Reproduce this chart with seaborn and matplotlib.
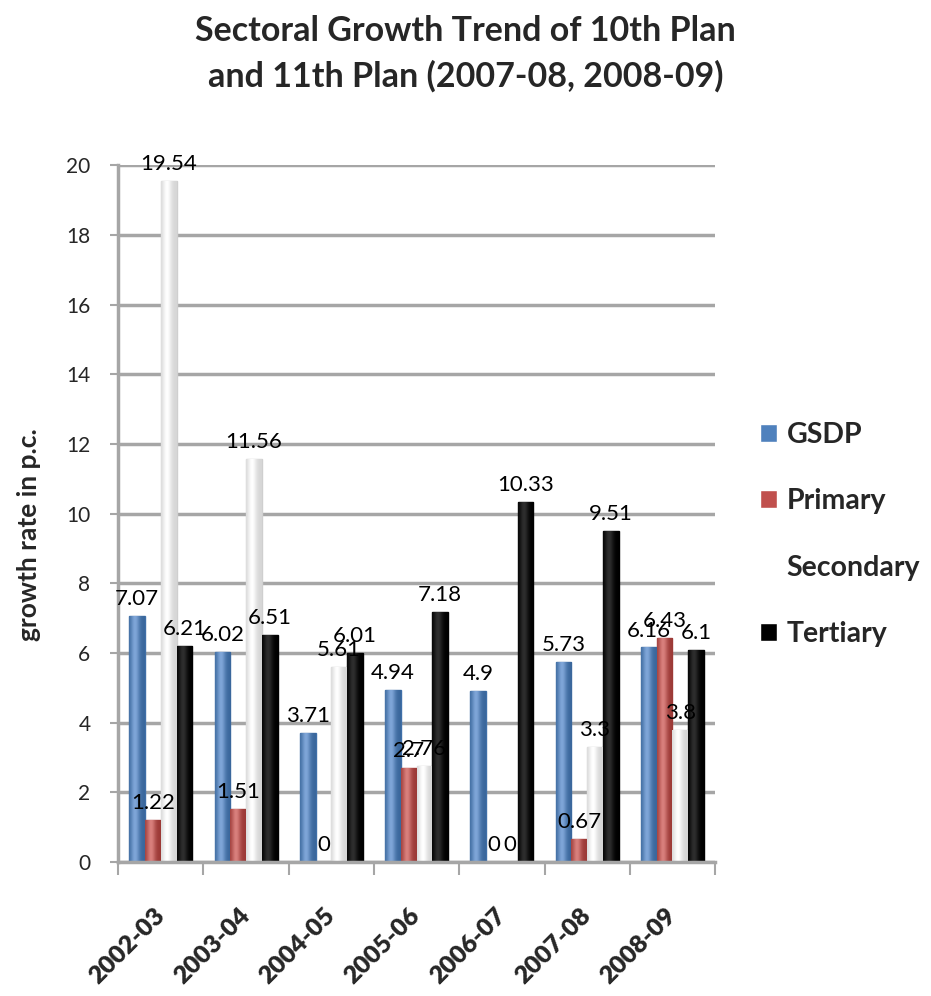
import matplotlib
matplotlib.use("Agg")
import matplotlib.pyplot as plt
import matplotlib.colors as mcolors
import seaborn as sns
import pandas as pd
import numpy as np

years = ["2002-03", "2003-04", "2004-05", "2005-06", "2006-07", "2007-08", "2008-09"]
gsdp = [7.07, 6.02, 3.71, 4.94, 4.9, 5.73, 6.16]
primary = [1.22, 1.51, 0, 2.7, 0, 0.67, 6.43]
secondary = [19.54, 11.56, 5.61, 2.76, 0, 3.3, 3.8]
tertiary = [6.21, 6.51, 6.01, 7.18, 10.33, 9.51, 6.1]
sectors = ["GSDP", "Primary", "Secondary", "Tertiary"]

rows = []
for name, vals in zip(sectors, [gsdp, primary, secondary, tertiary]):
    for y, v in zip(years, vals):
        rows.append({"year": y, "sector": name, "value": v})
df = pd.DataFrame(rows)

sns.set_theme(style="white")
plt.rcParams["font.family"] = ["Lato", "DejaVu Sans"]

palette = {"GSDP": "#4F81BD", "Primary": "#C0504D",
           "Secondary": "#FFFFFF", "Tertiary": "#000000"}
edges = {"GSDP": "#3F6FA8", "Primary": "#A8423F",
         "Secondary": "#CFCFCF", "Tertiary": "#000000"}
# dark edge -> highlight -> dark edge, gives the bars a rounded look
shade = {"GSDP": ("#3A679C", "#7FA6D8"), "Primary": ("#9C3936", "#D9807D"),
         "Secondary": ("#D6D6D6", "#FFFFFF"), "Tertiary": ("#000000", "#2E2E2E")}

fig = plt.figure(figsize=(9.31, 9.96), dpi=100)
ax = fig.add_axes([0.127, 0.1345, 0.641, 0.6995])

sns.barplot(data=df, x="year", y="value", hue="sector", hue_order=sectors,
            palette=palette, width=0.74, saturation=1, ax=ax, legend=True)

t = np.linspace(0, 1, 64)
bump = np.exp(-((t - 0.38) / 0.28) ** 2)
for cont, name in zip(ax.containers, sectors):
    dark = np.array(mcolors.to_rgb(shade[name][0]))
    light = np.array(mcolors.to_rgb(shade[name][1]))
    img = (dark[None, :] + (light - dark)[None, :] * bump[:, None])[None, :, :]
    for p in cont.patches:
        p.set_edgecolor(edges[name])
        p.set_linewidth(1.0)
        h = p.get_height()
        if h <= 0:
            continue
        x0, w = p.get_x(), p.get_width()
        im = ax.imshow(img, extent=[x0, x0 + w, 0, h], aspect="auto",
                       interpolation="bilinear", zorder=p.get_zorder() + 0.1)
        im.set_clip_path(p)
    vals = df[df.sector == name].value.tolist()
    ax.bar_label(cont, labels=[f"{v:g}" for v in vals], padding=5,
                 fontsize=16, color="black")

ax.set_ylim(0, 20)
ax.set_xlim(-0.5, 6.5)
ax.set_yticks(range(0, 21, 2))
ax.tick_params(axis="y", labelsize=15, length=6, width=1.5, color="#A6A6A6",
               direction="out", pad=14, left=True)
ax.yaxis.grid(True, color="#A6A6A6", linewidth=2.5)
ax.set_axisbelow(True)

ax.set_xticks([i - 0.5 for i in range(8)], minor=True)
ax.tick_params(axis="x", which="minor", length=9, color="#A6A6A6", width=1.5,
               direction="out", bottom=True)
ax.tick_params(axis="x", which="major", length=0, pad=36, labelsize=18)
plt.setp(ax.get_xticklabels(), rotation=45, ha="right", va="center",
         rotation_mode="anchor", fontweight="heavy")

for s in ["top", "right"]:
    ax.spines[s].set_visible(False)
ax.spines["left"].set_color("#A6A6A6")
ax.spines["left"].set_linewidth(2.5)
ax.spines["bottom"].set_color("#A6A6A6")
ax.spines["bottom"].set_linewidth(2.5)

ax.set_xlabel("")
ax.set_ylabel("growth rate in p.c.", fontsize=19, fontweight="bold")
ax.yaxis.set_label_coords(-0.13, 0.47)

handles, labels = ax.get_legend_handles_labels()
ax.legend(handles, labels, loc="center left", bbox_to_anchor=(1.075, 0.47),
          frameon=False, prop={"weight": "bold", "size": 20.5},
          handlelength=0.6, handleheight=0.6, labelspacing=1.42,
          handletextpad=0.35, borderpad=0, borderaxespad=0)

fig.suptitle("Sectoral Growth Trend of 10th Plan\nand 11th Plan (2007-08, 2008-09)",
             x=0.5, y=0.985, fontsize=24.5, fontweight="bold", linespacing=1.5)

fig.savefig("out.png", dpi=100)
